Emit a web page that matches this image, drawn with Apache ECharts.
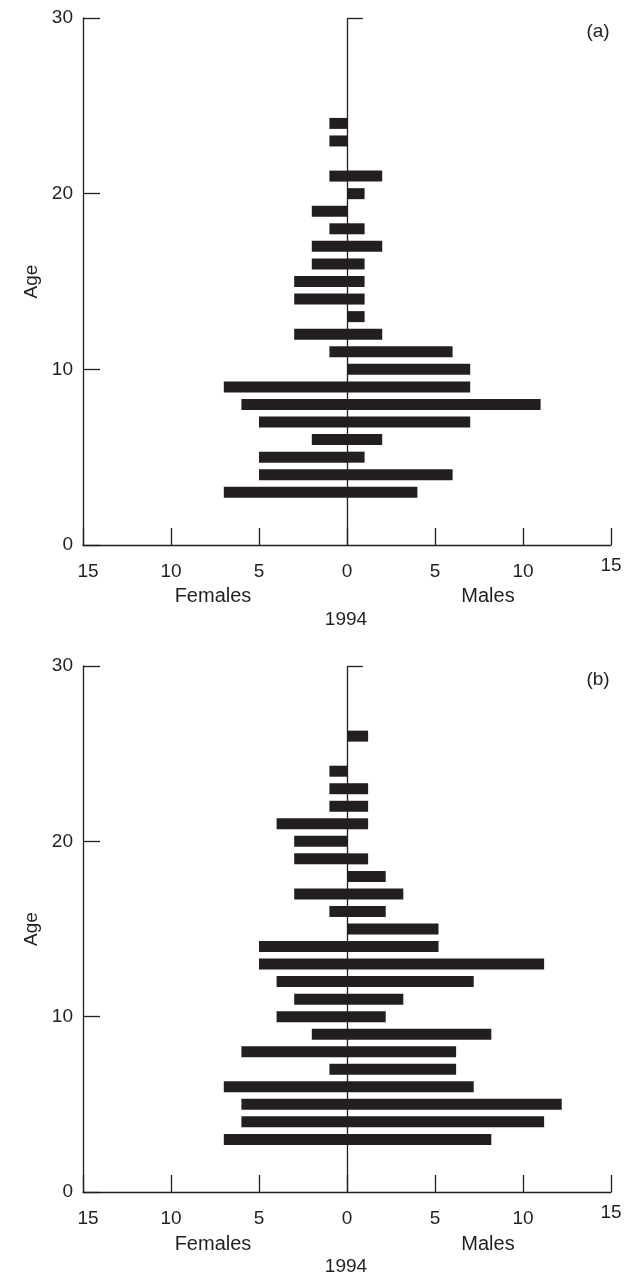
<!DOCTYPE html>
<html><head><meta charset="utf-8">
<script src="https://cdn.jsdelivr.net/npm/echarts@6/dist/echarts.min.js"></script>
<style>html,body{margin:0;padding:0;background:#fff}#c{width:633px;height:1273px}</style>
</head><body><div id="c"></div>
<script>
const ageCategories = ['0','1','2','3','4','5','6','7','8','9','10','11','12','13','14','15','16','17','18','19','20','21','22','23','24','25','26','27','28','29','30'];
const xTickValues = [-15, -10, -5, 0, 5, 10, 15];

const agesA    = [3,4,5,6,7,8,9,10,11,12,13,14,15,16,17,18,19,20,21,22,23,24];
const femalesA = [7,5,5,2,5,6,7,0,1,3,0,3,3,2,2,1,2,0,1,0,1,1];
const malesA   = [4,6,1,2,7,11,7,7,6,2,1,1,1,1,2,1,0,1,2,0,0,0];

const agesB    = [3,4,5,6,7,8,9,10,11,12,13,14,15,16,17,18,19,20,21,22,23,24,25,26];
const femalesB = [7,6,6,7,1,6,2,4,3,4,5,5,0,1,3,0,3,3,4,1,1,1,0,0];
const malesB   = [8.2,11.2,12.2,7.2,6.2,6.2,8.2,2.2,3.2,7.2,11.2,5.2,5.2,2.2,3.2,2.2,1.2,0,1.2,1.2,1.2,0,0,1.2];

const INK = '#231f20';
const FONT = 'Liberation Sans, Arial, sans-serif';
const FS = 19;
const FW = 20;

const grids = [
  {left: 83, top: 18, width: 528, height: 527},
  {left: 83, top: 666, width: 528, height: 526}
];

function xAxisFor(i) {
  return {
    gridIndex: i, type: 'value', min: -15, max: 15, interval: 5,
    axisLine: {show: true, onZero: false, lineStyle: {color: INK, width: 1.3}},
    axisTick: {show: true, inside: true, length: 17, lineStyle: {color: INK, width: 1.3}},
    splitLine: {show: false},
    axisLabel: {
      margin: 15, color: INK, fontFamily: FONT, fontSize: FS,
      formatter: function (v) {
        if (v === 15) return '{u|15}';
        if (v === -15) return '{l|15}';
        return '{n|' + Math.abs(v) + '}';
      },
      rich: {
        n: {lineHeight: 24, fontSize: FS, fontFamily: FONT, color: INK},
        l: {lineHeight: 24, fontSize: FS, fontFamily: FONT, color: INK, padding: [0, 0, 0, 10]},
        u: {lineHeight: 12, fontSize: FS, fontFamily: FONT, color: INK}
      }
    }
  };
}

function yAxisFor(i) {
  return {
    gridIndex: i, type: 'category', data: ageCategories, boundaryGap: false,
    name: 'Age', nameLocation: 'middle', nameRotate: 90, nameGap: 34,
    nameTextStyle: {color: INK, fontFamily: FONT, fontSize: FS},
    axisLine: {show: true, onZero: false, lineStyle: {color: INK, width: 1.3}},
    axisTick: {show: true, inside: true, length: 17, interval: function (idx) { return idx % 10 === 0; }, lineStyle: {color: INK, width: 1.3}},
    axisLabel: {margin: 10, color: INK, fontFamily: FONT, fontSize: FS, interval: function (idx) { return idx % 10 === 0; }},
    splitLine: {show: false}
  };
}

function barData(ages, vals, sign) {
  const out = [];
  for (let k = 0; k < ages.length; k++) {
    if (vals[k] !== 0) out.push([sign * vals[k], String(ages[k])]);
  }
  return out;
}

function seriesFor(i, ages, fem, mal) {
  return [
    {
      type: 'bar', xAxisIndex: i, yAxisIndex: i, stack: 'pyr' + i, barWidth: 11,
      itemStyle: {color: INK}, data: barData(ages, fem, -1),
      markLine: {
        silent: true, symbol: 'none', label: {show: false},
        lineStyle: {color: INK, width: 1.3, type: 'solid'},
        data: [
          [{coord: [0, '0']}, {coord: [0, '30']}],
          [{coord: [0, '30']}, {coord: [0.9, '30']}]
        ]
      }
    },
    {
      type: 'bar', xAxisIndex: i, yAxisIndex: i, stack: 'pyr' + i, barWidth: 11,
      itemStyle: {color: INK}, data: barData(ages, mal, 1)
    }
  ];
}

function txt(x, y, s, fs) {
  return {type: 'text', x: x, y: y, style: {text: s, fill: INK, font: fs + 'px ' + FONT, textAlign: 'center', textVerticalAlign: 'middle'}};
}

const chart = echarts.init(document.getElementById('c'));
chart.setOption({
  animation: false,
  grid: grids,
  xAxis: [xAxisFor(0), xAxisFor(1)],
  yAxis: [yAxisFor(0), yAxisFor(1)],
  series: seriesFor(0, agesA, femalesA, malesA).concat(seriesFor(1, agesB, femalesB, malesB)),
  graphic: [
    txt(598, 32, '(a)', FS),
    txt(213, 596, 'Females', FW),
    txt(488, 596, 'Males', FW),
    txt(346, 620, '1994', FS),
    txt(598, 680, '(b)', FS),
    txt(213, 1244, 'Females', FW),
    txt(488, 1244, 'Males', FW),
    txt(346, 1267, '1994', FS)
  ]
});
</script>
</body></html>
